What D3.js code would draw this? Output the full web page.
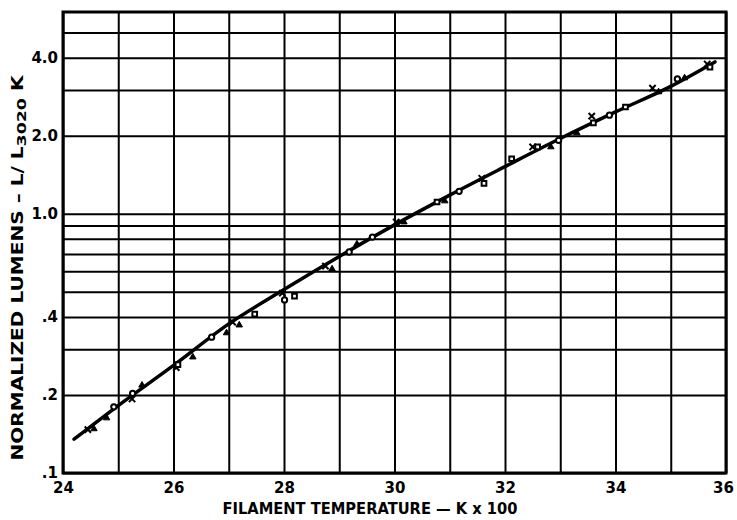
<!DOCTYPE html>
<html>
<head>
<meta charset="utf-8">
<script src="https://cdn.jsdelivr.net/npm/d3@7"></script>
<style>
  body { margin: 0; background: #fff; }
  text { font-family: "DejaVu Sans", "Liberation Sans", Arial, sans-serif; font-weight: bold; fill: #000; }
</style>
</head>
<body>
<div id="chart"></div>
<script>
/* DATA */
// fitted curve: filament temperature (K x 100) and normalized lumens
var curveTemp   = [24.2, 25, 26, 27, 28, 29, 30, 31, 32, 33, 34, 35, 35.8];
var curveLumens = [0.135, 0.182, 0.26, 0.376, 0.51, 0.684, 0.906, 1.18, 1.52, 1.95, 2.47, 3.10, 3.85];

// measured points and their marker type
var pointTemp = [24.45, 24.56, 24.79, 24.92, 25.25, 25.26, 25.43, 26.05, 26.08, 26.35,
  26.69, 26.96, 27.07, 27.19, 27.47, 27.97, 28.01, 28.19, 28.75, 28.87,
  29.18, 29.32, 29.60, 30.03, 30.17, 30.77, 30.91, 31.17, 31.58, 31.62,
  32.12, 32.50, 32.59, 32.83, 32.97, 33.30, 33.57, 33.60, 33.89, 34.18,
  34.67, 34.78, 35.12, 35.25, 35.66, 35.71];
var pointLumens = [0.147, 0.148, 0.163, 0.180, 0.193, 0.203, 0.218, 0.255, 0.262, 0.280,
  0.334, 0.347, 0.382, 0.372, 0.410, 0.494, 0.465, 0.481, 0.628, 0.612,
  0.712, 0.764, 0.813, 0.929, 0.929, 1.11, 1.12, 1.22, 1.37, 1.31,
  1.63, 1.81, 1.81, 1.81, 1.92, 2.05, 2.38, 2.24, 2.40, 2.58,
  3.05, 2.95, 3.31, 3.34, 3.78, 3.68];
var pointMark = ["x", "tri", "tri", "circ", "x", "circ", "tri", "x", "sq", "tri",
  "circ", "tri", "x", "tri", "sq", "x", "circ", "sq", "x", "tri",
  "circ", "tri", "circ", "x", "tri", "sq", "tri", "circ", "x", "sq",
  "sq", "x", "sq", "tri", "circ", "tri", "x", "sq", "circ", "sq",
  "x", "tri", "circ", "tri", "x", "sq"];

var xGrid = [24, 25, 26, 27, 28, 29, 30, 31, 32, 33, 34, 35, 36];
var xTicks = [24, 26, 28, 30, 32, 34, 36];
var yGrid = [0.1, 0.2, 0.3, 0.4, 0.5, 0.6, 0.7, 0.8, 0.9, 1, 2, 3, 4, 5];
var yTicks = [0.1, 0.2, 0.4, 1, 2, 4];
var yTickLabels = [".1", ".2", ".4", "1.0", "2.0", "4.0"];

/* SETUP */
var width = 737;
var height = 520;
var margin = { top: 12, right: 11, bottom: 47, left: 63 };
var innerW = width - margin.left - margin.right;
var innerH = height - margin.top - margin.bottom;

var svg = d3.select("#chart")
  .append("svg")
  .attr("width", width)
  .attr("height", height);

var g = svg.append("g")
  .attr("transform", "translate(" + margin.left + "," + margin.top + ")");

var x = d3.scaleLinear().domain([24, 36]).range([0, innerW]);
var y = d3.scaleLog().domain([0.1, 6]).range([innerH, 0]);

// grid lines, drawn with axes and long ticks
g.append("g")
  .attr("class", "grid")
  .attr("transform", "translate(0," + innerH + ")")
  .call(d3.axisBottom(x).tickValues(xGrid).tickSize(-innerH).tickFormat(""));

g.append("g")
  .attr("class", "grid")
  .call(d3.axisLeft(y).tickValues(yGrid).tickSize(-innerW).tickFormat(""));

g.selectAll(".grid .domain").remove();
g.selectAll(".grid line")
  .attr("stroke", "#000")
  .attr("stroke-width", 2);

// frame
g.append("rect")
  .attr("width", innerW)
  .attr("height", innerH)
  .attr("fill", "none")
  .attr("stroke", "#000")
  .attr("stroke-width", 3);

// tick labels
var xAxis = g.append("g")
  .attr("transform", "translate(0," + innerH + ")")
  .call(d3.axisBottom(x).tickValues(xTicks).tickSize(0).tickPadding(9).tickFormat(d3.format("d")));

var yAxis = g.append("g")
  .call(d3.axisLeft(y).tickValues(yTicks).tickSize(0).tickPadding(5)
    .tickFormat(function(d, i) { return yTickLabels[i]; }));

xAxis.select(".domain").remove();
yAxis.select(".domain").remove();
svg.selectAll(".tick text")
  .attr("font-family", null)
  .style("font-size", "15px")
  .attr("fill", "#000");

// keep the last label inside the page
xAxis.selectAll(".tick text")
  .filter(function(d) { return d === 36; })
  .attr("dx", -3);

// fitted curve
var line = d3.line()
  .x(function(d, i) { return x(curveTemp[i]); })
  .y(function(d, i) { return y(curveLumens[i]); })
  .curve(d3.curveMonotoneX);

g.append("path")
  .datum(curveTemp)
  .attr("d", line)
  .attr("fill", "none")
  .attr("stroke", "#000")
  .attr("stroke-width", 3.5)
  .attr("stroke-linecap", "round");

// markers
var crossX = {
  draw: function(context, size) {
    var r = Math.sqrt(size) / 2;
    context.moveTo(-r, -r); context.lineTo(r, r);
    context.moveTo(-r, r); context.lineTo(r, -r);
  }
};
var shapes = {
  x: d3.symbol().type(crossX).size(40),
  tri: d3.symbol().type(d3.symbolTriangle).size(18),
  sq: d3.symbol().type(d3.symbolSquare).size(22),
  circ: d3.symbol().type(d3.symbolCircle).size(22)
};

g.selectAll(".pt")
  .data(pointTemp)
  .enter()
  .append("path")
  .attr("class", "pt")
  .attr("d", function(d, i) { return shapes[pointMark[i]](); })
  .attr("transform", function(d, i) { return "translate(" + x(d) + "," + y(pointLumens[i]) + ")"; })
  .attr("fill", function(d, i) {
    return (pointMark[i] === "sq" || pointMark[i] === "circ") ? "#fff" : "#000";
  })
  .attr("stroke", "#000")
  .attr("stroke-width", function(d, i) { return pointMark[i] === "tri" ? 1 : 2; });

// axis titles
svg.append("text")
  .attr("x", 370)
  .attr("y", 514)
  .attr("text-anchor", "middle")
  .attr("textLength", 295)
  .attr("lengthAdjust", "spacingAndGlyphs")
  .style("font-size", "15px")
  .text("FILAMENT  TEMPERATURE  \u2014  K x 100");

var yTitle = svg.append("text")
  .attr("transform", "translate(23,268) rotate(-90)")
  .attr("text-anchor", "middle")
  .attr("textLength", 385)
  .attr("lengthAdjust", "spacingAndGlyphs")
  .style("font-size", "15px");

yTitle.append("tspan").text("NORMALIZED  LUMENS  \u2013  L/ L");
yTitle.append("tspan").attr("dy", 3).style("font-size", "13px").text("3020");
yTitle.append("tspan").attr("dy", -3).text(" K");
</script>
</body>
</html>
